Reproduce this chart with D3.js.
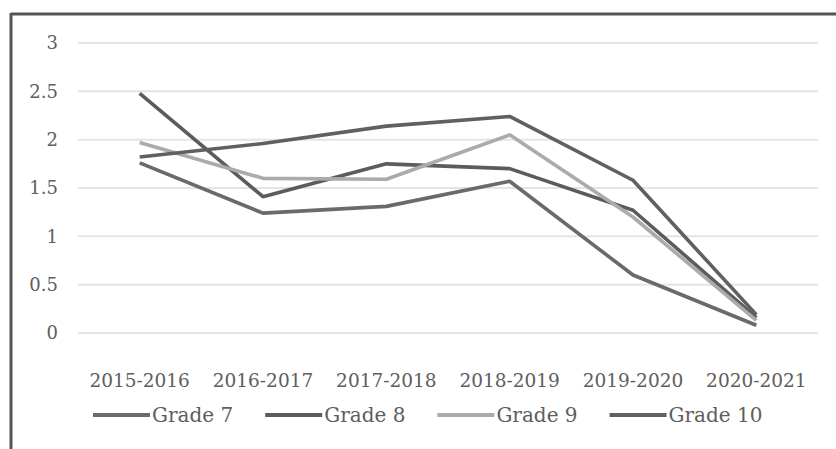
<!DOCTYPE html>
<html lang="en">
<head>
<meta charset="UTF-8">
<title>Grades by school year</title>
<script src="https://d3js.org/d3.v7.min.js"></script>
<style>
    body { margin: 0; background: #fff; }
    svg { display: block; }
    text { font-family: "DejaVu Serif", serif; fill: #5e5e5e; }
</style>
</head>
<body>
<div id="chart"></div>
<script>
    const years = ["2015-2016", "2016-2017", "2017-2018", "2018-2019", "2019-2020", "2020-2021"];
    const seriesNames = ["Grade 7", "Grade 8", "Grade 9", "Grade 10"];
    const grade7 = [1.76, 1.24, 1.31, 1.57, 0.60, 0.08];
    const grade8 = [2.48, 1.41, 1.75, 1.70, 1.27, 0.16];
    const grade9 = [1.97, 1.60, 1.59, 2.05, 1.20, 0.13];
    const grade10 = [1.82, 1.96, 2.14, 2.24, 1.58, 0.19];
    const yTicks = [0, 0.5, 1, 1.5, 2, 2.5, 3];
    const colors = ["#6a6a6a", "#5c5c5c", "#ababab", "#606060"];

    const width = 836, height = 449;
    const svg = d3.select("#chart").append("svg")
        .attr("width", width).attr("height", height);

    // frame (only top and left edges show in the crop)
    svg.append("line").attr("x1", 11).attr("x2", width).attr("y1", 14).attr("y2", 14)
        .attr("stroke", "#555").attr("stroke-width", 3);
    svg.append("line").attr("x1", 11).attr("x2", 11).attr("y1", 13).attr("y2", height)
        .attr("stroke", "#555").attr("stroke-width", 3);

    const x = d3.scaleBand().domain(years).range([78, 818]);
    const y = d3.scaleLinear().domain([0, 3]).range([333, 43]);

    // gridlines
    svg.append("g").selectAll("line").data(yTicks).join("line")
        .attr("x1", 78).attr("x2", 818)
        .attr("y1", d => y(d)).attr("y2", d => y(d))
        .attr("stroke", "#e4e4e4").attr("stroke-width", 2);

    // y labels
    svg.append("g").selectAll("text").data(yTicks).join("text")
        .attr("x", 58).attr("y", d => y(d)).attr("dy", "0.35em")
        .attr("text-anchor", "end").style("font-size", "18px")
        .text(d => d);

    // x labels
    svg.append("g").selectAll("text").data(years).join("text")
        .attr("x", d => x(d) + x.bandwidth() / 2).attr("y", 387)
        .attr("text-anchor", "middle").style("font-size", "18.5px")
        .text(d => d);

    const data = [grade7, grade8, grade9, grade10];
    const line = d3.line()
        .x((d, i) => x(years[i]) + x.bandwidth() / 2)
        .y(d => y(d));

    svg.append("g").selectAll("path").data(data).join("path")
        .attr("d", line)
        .attr("fill", "none")
        .attr("stroke", (d, i) => colors[i])
        .attr("stroke-width", 3.6)
        .attr("stroke-linejoin", "round");

    // legend
    const legend = svg.append("g");
    let lx = 93;
    seriesNames.forEach((name, i) => {
        legend.append("line")
            .attr("x1", lx).attr("x2", lx + 57).attr("y1", 415).attr("y2", 415)
            .attr("stroke", colors[i]).attr("stroke-width", 4);
        const t = legend.append("text")
            .attr("x", lx + 59).attr("y", 415).attr("dy", "0.35em")
            .style("font-size", "20px")
            .text(name);
        lx += 59 + t.node().getComputedTextLength() + 32;
    });
</script>
</body>
</html>
